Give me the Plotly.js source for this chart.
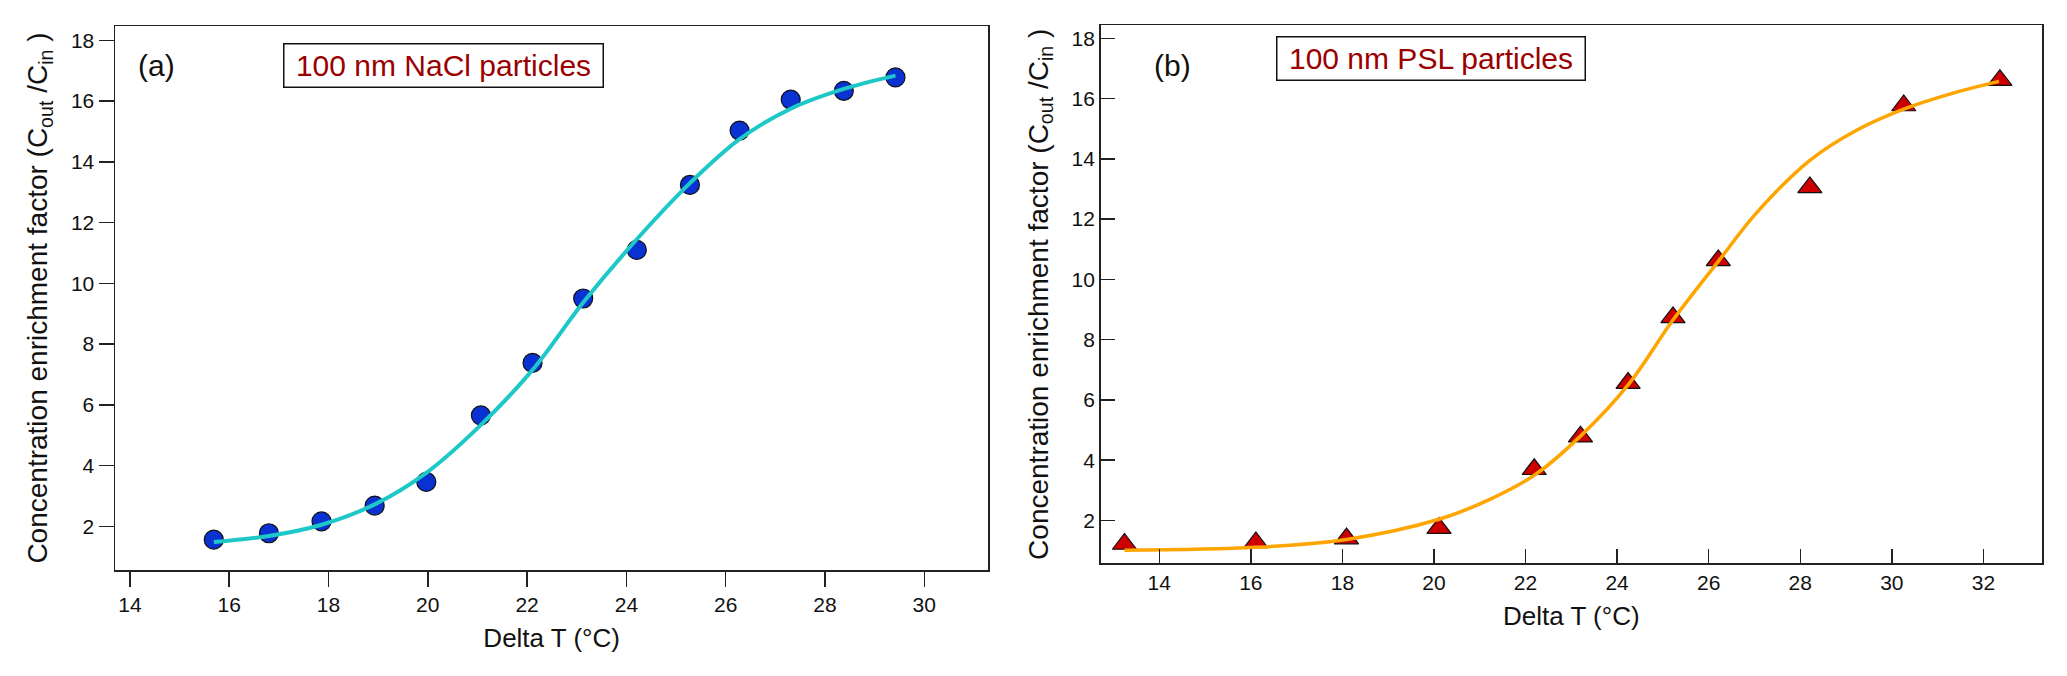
<!DOCTYPE html>
<html>
<head>
<meta charset="utf-8">
<script src="https://cdn.plot.ly/plotly-3.0.1.min.js"></script>
<style>
  html, body { margin: 0; padding: 0; background: #fff; }
  #chart { width: 2067px; height: 676px; }
</style>
</head>
<body>
<div id="chart"></div>
<script>
// (a) 100 nm NaCl particles
var nacl_dT  = [15.69, 16.80, 17.86, 18.93, 19.97, 21.07, 22.11, 23.13, 24.21, 25.28, 26.28, 27.31, 28.38, 29.42];
var nacl_cef = [1.56, 1.77, 2.16, 2.68, 3.46, 5.65, 7.38, 9.50, 11.10, 13.24, 15.03, 16.05, 16.34, 16.78];
// fitted curve
var nacl_fit_dT  = [15.69, 16.80, 17.86, 18.93, 19.97, 21.07, 22.11, 23.13, 24.21, 25.28, 26.28, 27.31, 28.38, 29.42];
var nacl_fit_cef = [1.48, 1.68, 2.05, 2.72, 3.76, 5.34, 7.15, 9.37, 11.45, 13.30, 14.75, 15.75, 16.40, 16.84];

// (b) 100 nm PSL particles
var psl_dT  = [13.24, 16.11, 18.09, 20.11, 22.19, 23.20, 24.24, 25.22, 26.21, 28.21, 30.26, 32.36];
var psl_cef = [1.22, 1.27, 1.40, 1.75, 3.70, 4.78, 6.56, 8.74, 10.63, 13.05, 15.77, 16.61];
var psl_fit_dT  = [13.24, 16.11, 18.09, 20.11, 21.22, 22.19, 23.20, 24.24, 25.22, 26.21, 27.04, 28.21, 29.23, 30.26, 31.34, 32.34];
var psl_fit_cef = [1.01, 1.11, 1.37, 2.04, 2.70, 3.50, 4.80, 6.50, 8.65, 10.60, 12.20, 13.95, 14.95, 15.65, 16.18, 16.57];

var xTicksA = [14, 16, 18, 20, 22, 24, 26, 28, 30];
var xTicksB = [14, 16, 18, 20, 22, 24, 26, 28, 30, 32];
var yTicks  = [2, 4, 6, 8, 10, 12, 14, 16, 18];

var FONT = "Arial, 'Liberation Sans', sans-serif";
var yTitle = "Concentration enrichment factor (C<sub>out</sub> /C<sub>in</sub> )";

var data = [
  {
    x: nacl_dT, y: nacl_cef, xaxis: "x", yaxis: "y",
    mode: "markers", type: "scatter",
    marker: { symbol: "circle", size: 19, color: "#0a32d2", line: { color: "#111", width: 1.2 } }
  },
  {
    x: nacl_fit_dT, y: nacl_fit_cef, xaxis: "x", yaxis: "y",
    mode: "lines", type: "scatter",
    line: { color: "#1ec8c8", width: 4, shape: "spline", smoothing: 1 }
  },
  {
    x: psl_dT, y: psl_cef, xaxis: "x2", yaxis: "y2",
    mode: "markers", type: "scatter",
    marker: { symbol: "triangle-up", size: 21, color: "#cc0000", line: { color: "#111", width: 1.2 } }
  },
  {
    x: psl_fit_dT, y: psl_fit_cef, xaxis: "x2", yaxis: "y2",
    mode: "lines", type: "scatter",
    line: { color: "#ffa500", width: 3.5, shape: "spline", smoothing: 1 }
  }
];

var axisBase = {
  showgrid: false, zeroline: false,
  showline: true, mirror: true, linecolor: "#222", linewidth: 1.5,
  tickcolor: "#222", tickwidth: 1.5,
  tickfont: { family: FONT, size: 21, color: "#111" }
};

var layout = {
  width: 2067, height: 676,
  margin: { l: 115, r: 25, t: 25, b: 106 },
  paper_bgcolor: "#fff", plot_bgcolor: "#fff",
  showlegend: false,
  font: { family: FONT, size: 21, color: "#111" },
  xaxis: Object.assign({}, axisBase, {
    domain: [0, 0.4532], anchor: "y", range: [13.70, 31.29],
    tickvals: xTicksA, ticks: "outside", ticklen: 15,
    title: { text: "Delta T (°C)", font: { family: FONT, size: 26, color: "#111" }, standoff: 14 }
  }),
  yaxis: Object.assign({}, axisBase, {
    domain: [0, 0.998], anchor: "x", range: [0.56, 18.47],
    tickvals: yTicks, ticks: "outside", ticklen: 15,
    title: { text: yTitle, font: { family: FONT, size: 28, color: "#111" }, standoff: 15 }
  }),
  xaxis2: Object.assign({}, axisBase, {
    domain: [0.5115, 1], anchor: "y2", range: [12.72, 33.28],
    tickvals: xTicksB, ticks: "inside", ticklen: 14,
    title: { text: "Delta T (°C)", font: { family: FONT, size: 26, color: "#111" }, standoff: 14 }
  }),
  yaxis2: Object.assign({}, axisBase, {
    domain: [0.0123, 0.9994], anchor: "x2", range: [0.58, 18.43],
    tickvals: yTicks, ticks: "inside", ticklen: 14,
    title: { text: yTitle, font: { family: FONT, size: 28, color: "#111" }, standoff: 15 }
  }),
  annotations: [
    { text: "(a)", xref: "paper", yref: "paper", x: 0.0216, y: 0.9248,
      xanchor: "center", yanchor: "middle", showarrow: false,
      font: { family: FONT, size: 30, color: "#111" } },
    { text: "100 nm NaCl particles", xref: "paper", yref: "paper", x: 0.1703, y: 0.9248,
      xanchor: "center", yanchor: "middle", showarrow: false,
      width: 316, height: 40, borderpad: 1,
      bordercolor: "#111", borderwidth: 1.5, bgcolor: "#fff",
      font: { family: FONT, size: 30, color: "#9b0000" } },
    { text: "(b)", xref: "paper", yref: "paper", x: 0.5490, y: 0.9266,
      xanchor: "center", yanchor: "middle", showarrow: false,
      font: { family: FONT, size: 30, color: "#111" } },
    { text: "100 nm PSL particles", xref: "paper", yref: "paper", x: 0.6830, y: 0.9381,
      xanchor: "center", yanchor: "middle", showarrow: false,
      width: 305, height: 40, borderpad: 1,
      bordercolor: "#111", borderwidth: 1.5, bgcolor: "#fff",
      font: { family: FONT, size: 30, color: "#9b0000" } }
  ]
};

Plotly.newPlot("chart", data, layout, { staticPlot: true, displayModeBar: false });
</script>
</body>
</html>
